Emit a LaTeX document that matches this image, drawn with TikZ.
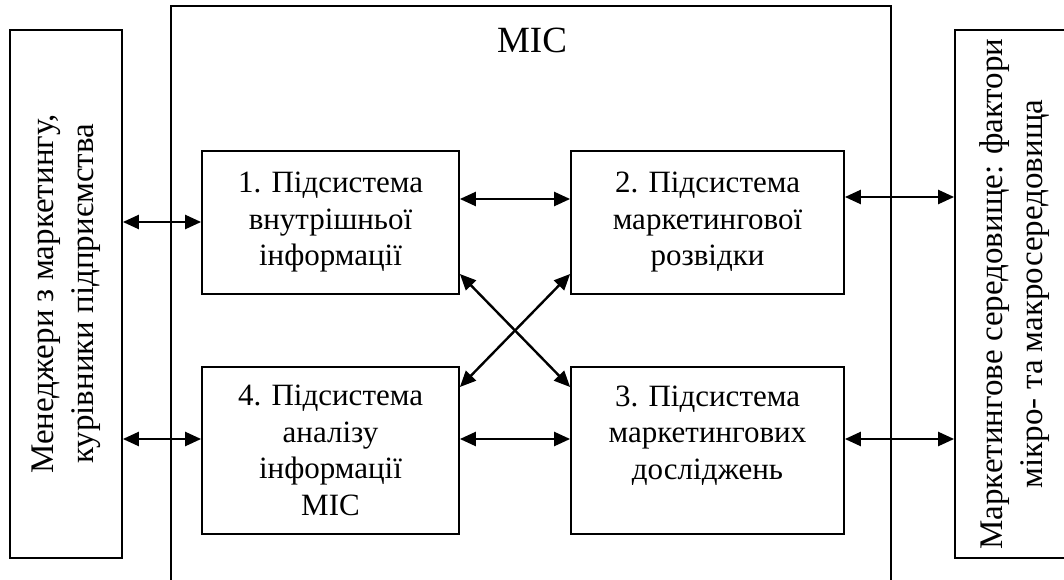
\documentclass[tikz,border=0pt]{standalone}
\usepackage{fontspec}
\setmainfont{Liberation Serif}
\usetikzlibrary{arrows.meta}
\begin{document}
\begin{tikzpicture}[x=1pt,y=-1pt,
  box/.style={draw, line width=1.8pt, rectangle, inner sep=0pt, align=center,
    font=\fontsize{31}{36.5}\selectfont},
  side/.style={draw, line width=1.8pt, rectangle, inner sep=0pt, align=center,
    rotate=90, minimum width=528pt, minimum height=112pt,
    font=\fontsize{33}{40}\selectfont},
  arr/.style={line width=2.4pt,
    {Triangle[length=16pt,width=14pt]}-{Triangle[length=16pt,width=14pt]}}]
\useasboundingbox (0,0) rectangle (1064,580);

% outer MIC frame
\node[draw, line width=1.5pt, inner sep=0pt, minimum width=720pt, minimum height=600pt] (mic) at (531,306) {};
\node[font=\fontsize{37}{40}\selectfont] (title) at (532,40) {МІС};

% side boxes
\node[side] (left) at (66,294) {Менеджери з маркетингу,\\курівники підприємства};
\node[side, minimum height=120pt] (right) at (1015,294) {Маркетингове середовище: фактори\\мікро- та макросередовища};

% inner boxes
\node[box, minimum width=257pt, minimum height=143pt] (b1) at (330.5,222.5) {1. Підсистема\\внутрішньої\\інформації};
\node[box, minimum width=273pt, minimum height=143pt] (b2) at (707.5,222.5) {2. Підсистема\\маркетингової\\розвідки};
\node[box, minimum width=273pt, minimum height=167pt] (b3) at (707.5,450.5) {3. Підсистема\\маркетингових\\досліджень\\\mbox{}};
\node[box, minimum width=257pt, minimum height=167pt] (b4) at (330.5,450.5) {4. Підсистема\\аналізу\\інформації\\МІС};

% helper levels
\coordinate (yL1) at (0,222);
\coordinate (yL2) at (0,439);
\coordinate (yT) at (0,199);
\coordinate (yR1) at (0,197);
\coordinate (yD1) at (0,274);
\coordinate (yD2) at (0,387);

% connectors
\draw[arr] (left.south |- yL1) -- (b1.west |- yL1);
\draw[arr] (left.south |- yL2) -- (b4.west |- yL2);
\draw[arr] (b1.east |- yT) -- (b2.west |- yT);
\draw[arr] (b4.east |- yL2) -- (b3.west |- yL2);
\draw[arr] (b2.east |- yR1) -- (right.north |- yR1);
\draw[arr] (b3.east |- yL2) -- (right.north |- yL2);
\draw[arr] (b1.east |- yD1) -- (b3.west |- yD2);
\draw[arr] (b2.west |- yD1) -- (b4.east |- yD2);
\end{tikzpicture}
\end{document}
